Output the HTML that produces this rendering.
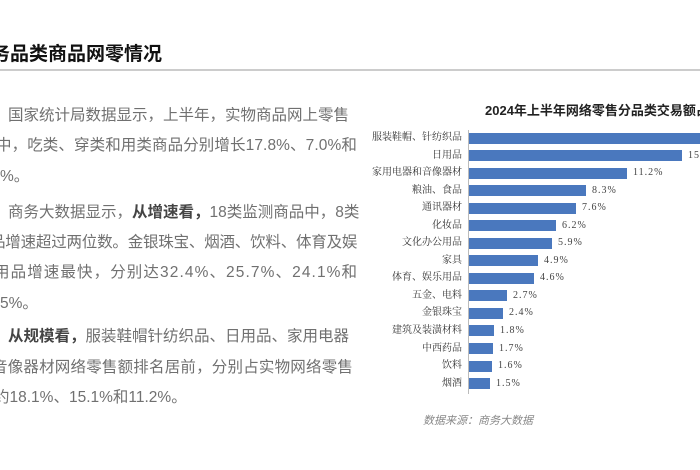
<!DOCTYPE html>
<html><head><meta charset="utf-8"><style>
body{margin:0;width:700px;height:470px;background:#fff;position:relative;overflow:hidden;font-family:"Liberation Sans","Noto Sans CJK SC",sans-serif}
.t{position:absolute;white-space:nowrap;font-size:15.5px;color:#707070;line-height:20px}
.l{left:0}
b{color:#444}
.lab{position:absolute;right:238px;font-family:"Liberation Serif","Noto Serif CJK SC",serif;font-size:10px;color:#333;white-space:nowrap;line-height:12px}
.bar{position:absolute;left:469px;height:11px;background:#4a78be}
.v{position:absolute;font-family:"Liberation Serif","Noto Serif CJK SC",serif;font-size:10px;letter-spacing:1px;color:#444;line-height:12px;white-space:nowrap}
</style></head><body>
<div style="position:absolute;left:-9px;top:39px;font-size:19px;font-weight:bold;color:#111;white-space:nowrap">务品类商品网零情况</div>
<div style="position:absolute;left:0;top:69px;width:700px;height:2px;background:#ccc"></div>

<div class="t" style="left:8px;top:106px">国家统计局数据显示，上半年，实物商品网上零售</div>
<div class="t" style="left:-4px;top:136px;letter-spacing:0.1px">中，吃类、穿类和用类商品分别增长17.8%、7.0%和</div>
<div class="t l" style="top:167px">%。</div>
<div class="t" style="left:8px;top:203px">商务大数据显示，<b>从增速看，</b>18类监测商品中，8类</div>
<div class="t" style="left:-10px;top:233px;letter-spacing:-0.2px">品增速超过两位数。金银珠宝、烟酒、饮料、体育及娱</div>
<div class="t" style="left:-6px;top:263px;letter-spacing:1.1px">用品增速最快，分别达32.4%、25.7%、24.1%和</div>
<div class="t l" style="top:294px">5%。</div>
<div class="t" style="left:8px;top:327px"><b>从规模看，</b>服装鞋帽针纺织品、日用品、家用电器</div>
<div class="t" style="left:-8px;top:358px;letter-spacing:0.2px">音像器材网络零售额排名居前，分别占实物网络零售</div>
<div class="t" style="left:-6px;top:388px">约18.1%、15.1%和11.2%。</div>

<div style="position:absolute;left:485px;top:100px;font-size:13px;font-weight:bold;color:#222;white-space:nowrap">2024年上半年网络零售分品类交易额占比</div>
<div style="position:absolute;left:468px;top:130px;width:1px;height:264px;background:#bbb"></div>

<div class="lab" style="top:132px">服装鞋帽、针纺织品</div><div class="bar" style="top:133px;width:256px"></div>
<div class="lab" style="top:150px">日用品</div><div class="bar" style="top:150px;width:213px"></div><div class="v" style="left:688px;top:150px">15.1%</div>
<div class="lab" style="top:167px">家用电器和音像器材</div><div class="bar" style="top:168px;width:158px"></div><div class="v" style="left:633px;top:167px">11.2%</div>
<div class="lab" style="top:185px">粮油、食品</div><div class="bar" style="top:185px;width:117px"></div><div class="v" style="left:592px;top:185px">8.3%</div>
<div class="lab" style="top:202px">通讯器材</div><div class="bar" style="top:203px;width:107px"></div><div class="v" style="left:582px;top:202px">7.6%</div>
<div class="lab" style="top:220px">化妆品</div><div class="bar" style="top:220px;width:87px"></div><div class="v" style="left:562px;top:220px">6.2%</div>
<div class="lab" style="top:237px">文化办公用品</div><div class="bar" style="top:238px;width:83px"></div><div class="v" style="left:558px;top:237px">5.9%</div>
<div class="lab" style="top:255px">家具</div><div class="bar" style="top:255px;width:69px"></div><div class="v" style="left:544px;top:255px">4.9%</div>
<div class="lab" style="top:272px">体育、娱乐用品</div><div class="bar" style="top:273px;width:65px"></div><div class="v" style="left:540px;top:272px">4.6%</div>
<div class="lab" style="top:290px">五金、电料</div><div class="bar" style="top:290px;width:38px"></div><div class="v" style="left:513px;top:290px">2.7%</div>
<div class="lab" style="top:307px">金银珠宝</div><div class="bar" style="top:308px;width:34px"></div><div class="v" style="left:509px;top:307px">2.4%</div>
<div class="lab" style="top:325px">建筑及装潢材料</div><div class="bar" style="top:325px;width:25px"></div><div class="v" style="left:500px;top:325px">1.8%</div>
<div class="lab" style="top:343px">中西药品</div><div class="bar" style="top:343px;width:24px"></div><div class="v" style="left:499px;top:343px">1.7%</div>
<div class="lab" style="top:360px">饮料</div><div class="bar" style="top:361px;width:23px"></div><div class="v" style="left:498px;top:360px">1.6%</div>
<div class="lab" style="top:378px">烟酒</div><div class="bar" style="top:378px;width:21px"></div><div class="v" style="left:496px;top:378px">1.5%</div>

<div style="position:absolute;left:423px;top:412px;font-size:11px;font-style:italic;color:#888;white-space:nowrap">数据来源：商务大数据</div>
</body></html>
